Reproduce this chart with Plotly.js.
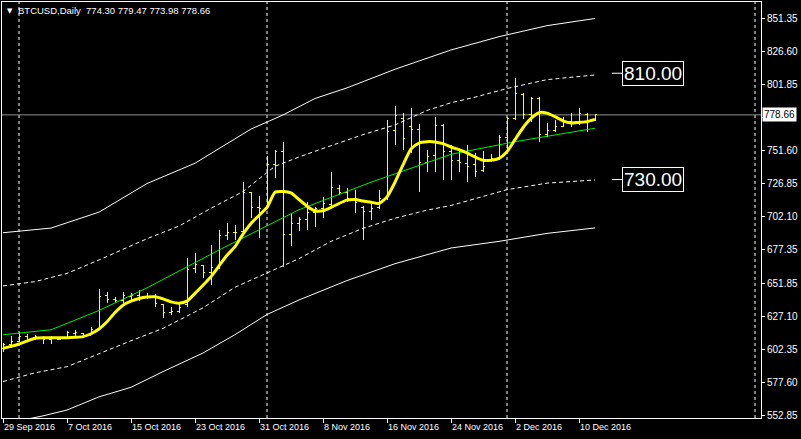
<!DOCTYPE html>
<html>
<head>
<meta charset="utf-8">
<script src="https://cdn.plot.ly/plotly-3.0.1.min.js"></script>
<style>html,body{margin:0;padding:0;background:#000;}#chart{width:801px;height:439px;}
#chart .ohlc path{shape-rendering:crispEdges;}</style>
</head>
<body>
<div id="chart"></div>
<script>
// ---- Daily bars ----
const dates = ['2016-09-29','2016-09-30','2016-10-01','2016-10-02','2016-10-03','2016-10-04','2016-10-05','2016-10-06','2016-10-07','2016-10-08',
'2016-10-09','2016-10-10','2016-10-11','2016-10-12','2016-10-13','2016-10-14','2016-10-15','2016-10-16','2016-10-17','2016-10-18',
'2016-10-19','2016-10-20','2016-10-21','2016-10-22','2016-10-23','2016-10-24','2016-10-25','2016-10-26','2016-10-27','2016-10-28',
'2016-10-29','2016-10-30','2016-10-31','2016-11-01','2016-11-02','2016-11-03','2016-11-04','2016-11-05','2016-11-06','2016-11-07',
'2016-11-08','2016-11-09','2016-11-10','2016-11-11','2016-11-12','2016-11-13','2016-11-14','2016-11-15','2016-11-16','2016-11-17',
'2016-11-18','2016-11-19','2016-11-20','2016-11-21','2016-11-22','2016-11-23','2016-11-24','2016-11-25','2016-11-26','2016-11-27',
'2016-11-28','2016-11-29','2016-11-30','2016-12-01','2016-12-02','2016-12-03','2016-12-04','2016-12-05','2016-12-06','2016-12-07',
'2016-12-08','2016-12-09','2016-12-10','2016-12-11','2016-12-12'];
const opens = [603,606,608,612,610,611,610,610,611,614, 614,613,617,643,640,639,642,643,642,641,
636,630,631,636,663,665,660,664,688,690, 691,720,709,709,741,751,689,697,700,705,
708,711,723,720,716,709,706,709,716,767, 776,770,768,743,748,771,751,744,742,741,
737,745,746,762,776,794,779,791,764,767, 770,774,772,779,774.30];
const highs = [607,612,615,614,613,612,612,611,616,617, 614.8,618.8,648,645.6,641.9,645.6,644.9,646.9,645,643.7,
636.4,634.4,637,670.7,675,665.7,680.8,692,697.5,695.8, 728.4,720.9,717.6,748,752,758,705,702,713.4,709.6,
717,735.9,725.9,723.4,722.1,710,712.1,722,774.8,785, 780,783.6,772,752.2,777,772,756,752.2,756,749.8,
751.5,749,763.5,777.3,806.2,795,792,792.4,772.3,774.8, 777.3,779.9,783.6,780,779.47];
const lows = [600.3,603.5,608,608,609,606,606,609,610,612, 611.3,613,617,637.3,636.9,636.9,638.9,638.9,640,634.4,
625.6,628,629.4,634.4,659.5,655.7,650.7,663,684.5,684.5, 690,700.9,685.8,708,731,664.5,680,691,692.1,694.6,
700.9,708.3,718.4,713.4,704.6,684.5,699.6,708,714.6,756, 752,749.8,721,736,736,730,730,735.5,728.4,732,
736,743.4,744.7,749.8,775,775.6,773.6,758.5,762.3,766, 769.8,769.8,771,766,773.98];
const closes = [606,608,612,610,612,610,611,610,615,615, 613,617,642,640,639,643,643,641,642,637,
630,631,634,662,666,660,664,688,690,690, 720,709,708,741,751,689,697,700,705,708,
712,724,720,716,713,706,708,716,766,778, 761,768,743,747,771,751,744,743,740,736,
740,746,762,776,795,779,791,764,767,770, 774,772,780,774,778.66];

// ---- Thick yellow moving average ----
const maYellow = [603,604.5,606.3,608.5,610.6,611,611,611,611,611.3, 611.8,614,617.5,623,630,635.5,638.5,640.5,641.6,641.8,
640.2,638,637,638.5,644.4,650.5,657,665,673,679.5, 689,697,703,709,720.4,721,720,715,710,706.5,
706.5,709,712,714.5,715,713.8,713,712,717,728, 741,753,757.5,758.5,758.3,757,754.5,752.5,750,747,
744.5,744.5,746,751,760,769,776,780.3,780,777.3, 774.2,772.5,773,773.6,775.3];

// ---- Green moving average (read at sample days) ----
const greenDates = ['2016-09-29','2016-10-05','2016-10-07','2016-10-11','2016-10-17','2016-10-26','2016-11-05','2016-11-14','2016-11-24','2016-12-02','2016-12-12'];
const greenVals  = [613.2,617,621.8,631.5,648.5,677,707.3,728,749,758.5,768.6];

// ---- Envelope bands (read at sample days) ----
const upDashDates = ['2016-09-29','2016-10-03','2016-10-07','2016-10-11','2016-10-17','2016-10-21','2016-10-25','2016-10-29','2016-11-02','2016-11-05','2016-11-09','2016-11-13','2016-11-17','2016-11-21','2016-11-24','2016-11-27','2016-12-01','2016-12-06','2016-12-12'];
const upDashVals  = [650,653.2,659.4,669.5,685.5,695,708.4,721,740,747,755.5,763.8,771.1,782,787.8,792,798.5,805.2,808.7];
const loDashDates = ['2016-09-29','2016-10-03','2016-10-07','2016-10-11','2016-10-15','2016-10-19','2016-10-24','2016-10-28','2016-11-01','2016-11-05','2016-11-09','2016-11-13','2016-11-17','2016-11-21','2016-11-24','2016-11-27','2016-12-01','2016-12-06','2016-12-12'];
const loDashVals  = [578,584.6,589.2,599,608.7,618,633.5,649,659.5,670.5,683.5,693.3,700.9,707,710.5,715.5,722.4,727.3,729.7];
const upSolidDates = ['2016-09-29','2016-10-05','2016-10-11','2016-10-17','2016-10-23','2016-10-27','2016-10-30','2016-11-03','2016-11-07','2016-11-11','2016-11-17','2016-11-24','2016-11-30','2016-12-06','2016-12-12'];
const upSolidVals  = [690,693.5,705.5,727,742.3,757,768,778.6,791,799,813,827.5,837.5,845.8,851.2];
const loSolidDates = ['2016-09-29','2016-10-04','2016-10-07','2016-10-11','2016-10-15','2016-10-19','2016-10-24','2016-10-28','2016-11-01','2016-11-05','2016-11-11','2016-11-17','2016-11-24','2016-11-30','2016-12-06','2016-12-12'];
const loSolidVals  = [546,552.2,556.6,566.5,573.7,585.5,599.5,613.3,628.5,639.4,654,666.7,678.5,683.5,689.5,693.6];

// ---- Axis labels ----
const xTickDates = ['2016-09-29','2016-10-07','2016-10-15','2016-10-23','2016-10-31','2016-11-08','2016-11-16','2016-11-24','2016-12-02','2016-12-10'];
const xTickText  = ['29 Sep 2016','7 Oct 2016','15 Oct 2016','23 Oct 2016','31 Oct 2016','8 Nov 2016','16 Nov 2016','24 Nov 2016','2 Dec 2016','10 Dec 2016'];
const yTickVals  = [552.85,577.60,602.35,627.10,651.85,677.35,702.10,726.85,751.60,776.85,801.85,826.60,851.35];
const yTickText  = ['552.85','577.60','602.35','627.10','651.85','677.35','702.10','726.85','751.60','','801.85','826.60','851.35'];
const monthStarts = ['2016-10-01','2016-11-01','2016-12-01','2017-01-01'];

// ---- Misc text ----
const symbolTitle = 'BTCUSD,Daily  774.30 779.47 773.98 778.66';
const bidPrice = 778.66;
const levelPrices = [810, 730];
const levelTexts = ['810.00', '730.00'];
const levelAnchorDate = '2016-12-14 03:00';

const white = '#ffffff';
const traces = [
  {type:'ohlc', x:dates, open:opens, high:highs, low:lows, close:closes, tickwidth:0.3,
   increasing:{line:{color:'#ffff00', width:1}}, decreasing:{line:{color:'#ffff00', width:1}}, hoverinfo:'skip'},
  {type:'scatter', mode:'lines', x:upSolidDates, y:upSolidVals, line:{color:white, width:1}, hoverinfo:'skip'},
  {type:'scatter', mode:'lines', x:loSolidDates, y:loSolidVals, line:{color:white, width:1}, hoverinfo:'skip'},
  {type:'scatter', mode:'lines', x:upDashDates, y:upDashVals, line:{color:white, width:1, dash:'4px,3px'}, hoverinfo:'skip'},
  {type:'scatter', mode:'lines', x:loDashDates, y:loDashVals, line:{color:white, width:1, dash:'4px,3px'}, hoverinfo:'skip'},
  {type:'scatter', mode:'lines', x:greenDates, y:greenVals, line:{color:'#00f000', width:1}, hoverinfo:'skip'},
  {type:'scatter', mode:'lines', x:dates, y:maYellow, line:{color:'#ffff00', width:3, shape:'spline', smoothing:0.6}, hoverinfo:'skip'}
];

const shapes = monthStarts.map(d => ({type:'line', xref:'x', yref:'paper', x0:d, x1:d, y0:0, y1:1,
  line:{color:white, width:1, dash:'3px,3px'}, layer:'below'}));
shapes.push({type:'line', xref:'paper', yref:'y', x0:0, x1:1, y0:bidPrice, y1:bidPrice, line:{color:'#909090', width:1}, layer:'below'});

const annotations = [
  {xref:'paper', yref:'paper', x:0, y:1, xanchor:'left', yanchor:'top', xshift:3, yshift:-3, showarrow:false,
   text:'▼', font:{family:'DejaVu Sans', size:7, color:white}},
  {xref:'paper', yref:'paper', x:0, y:1, xanchor:'left', yanchor:'top', xshift:14, yshift:-1, showarrow:false,
   text:symbolTitle, font:{family:'Liberation Sans', size:9.5, color:white}},
  {xref:'paper', yref:'y', x:1, y:bidPrice, xanchor:'left', yanchor:'middle', xshift:1, showarrow:false,
   text:bidPrice.toFixed(2), bgcolor:white, borderpad:1, font:{family:'Liberation Sans', size:10, color:'#000000'}}
];
levelPrices.forEach((p, k) => annotations.push({
  xref:'x', yref:'y', x:levelAnchorDate, y:p, showarrow:true, arrowhead:0, arrowwidth:1, arrowcolor:white,
  ax:41, ay:0, text:levelTexts[k], bgcolor:'#000000', bordercolor:white, borderwidth:1, borderpad:1,
  font:{family:'Liberation Sans', size:19, color:white}
}));

const layout = {
  width:801, height:439,
  paper_bgcolor:'#000000', plot_bgcolor:'#000000',
  margin:{l:2, r:40, t:2, b:21},
  showlegend:false,
  xaxis:{type:'date', range:['2016-09-28 21:00','2017-01-01 18:00'], tickvals:xTickDates, ticktext:xTickText,
    ticks:'outside', ticklen:4, tickcolor:white, showline:true, linecolor:white, linewidth:1, mirror:true,
    showgrid:false, zeroline:false, ticklabelposition:'outside right',
    tickfont:{family:'Liberation Sans', size:9, color:white}, rangeslider:{visible:false}, fixedrange:true},
  yaxis:{side:'right', range:[550.6, 863.6], tickvals:yTickVals, ticktext:yTickText,
    ticks:'outside', ticklen:3, tickcolor:white, showline:true, linecolor:white, linewidth:1, mirror:true,
    showgrid:false, zeroline:false, tickfont:{family:'Liberation Sans', size:10, color:white}, fixedrange:true},
  shapes:shapes, annotations:annotations, hovermode:false
};

Plotly.newPlot('chart', traces, layout, {staticPlot:true, displayModeBar:false});
</script>
</body>
</html>
